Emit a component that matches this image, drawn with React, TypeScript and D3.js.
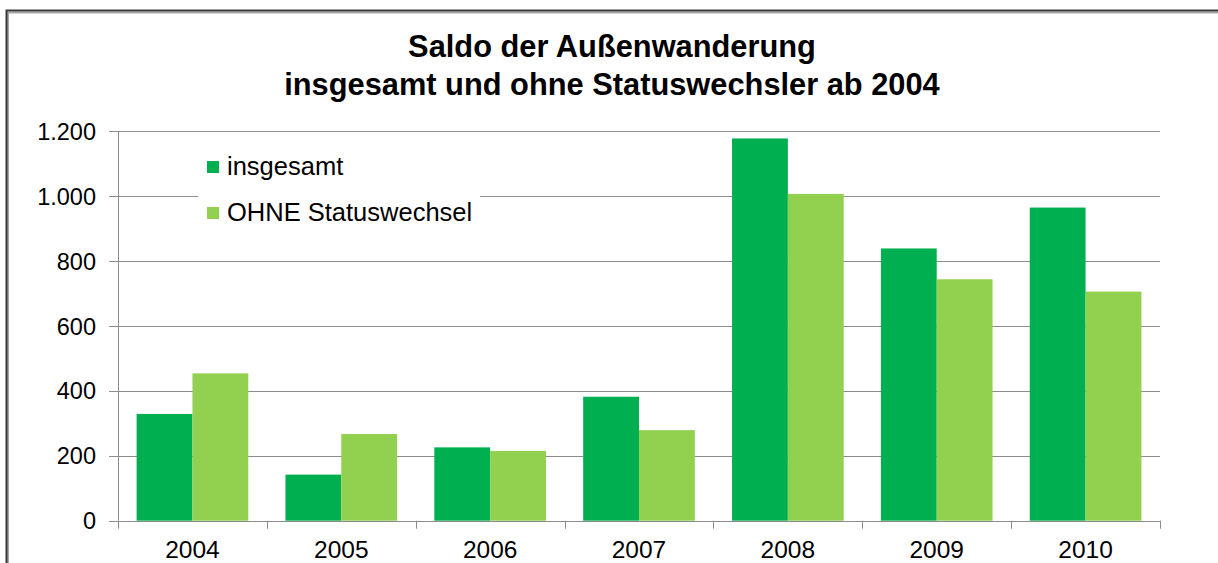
import React from 'react';
import * as d3 from 'd3';

const years = ['2004', '2005', '2006', '2007', '2008', '2009', '2010'];
const insgesamt = [329, 142, 226, 382, 1178, 839, 965];
const ohneStatus = [454, 267, 215, 279, 1007, 744, 706];
const seriesNames = ['insgesamt', 'OHNE Statuswechsel'];
const seriesColors = ['#00b050', '#92d050'];
const titleLines = ['Saldo der Außenwanderung', 'insgesamt und ohne Statuswechsler ab 2004'];

const W = 1218;
const H = 563;
const plot = { left: 118, right: 1160, top: 131.3, bottom: 520.7 };
const font = 'Arial, "Liberation Sans", sans-serif';

const de = d3.formatLocale({ decimal: ',', thousands: '.', grouping: [3], currency: ['', ' €'] });
const fmt = de.format(',d');

export default function App() {
  const series = [insgesamt, ohneStatus];

  const x0 = d3.scaleBand<string>().domain(years).range([plot.left, plot.right])
    .paddingInner(0.25).paddingOuter(0.125);
  const x1 = d3.scaleBand<number>().domain([0, 1]).range([0, x0.bandwidth()]);
  const y = d3.scaleLinear().domain([0, 1200]).range([plot.bottom, plot.top]);
  const yTicks = y.ticks(6);
  const step = x0.step();
  // category boundaries for the x ticks
  const bounds = d3.range(years.length + 1).map(i => plot.left + i * step);

  return (
    <svg width={W} height={H} style={{ position: 'absolute', left: 0, top: 0 }} fontFamily={font}>
      <rect x={0} y={0} width={W} height={H} fill="#fff" />
      {/* chart frame, cut off at right and bottom */}
      <path d={`M8,${H}V12.5H${W}`} fill="none" stroke="#a6a6a6" strokeWidth={2} />
      <path d={`M6.5,${H}V10.5H${W}`} fill="none" stroke="#3a3a3a" strokeWidth={2} />

      {titleLines.map((t, i) => (
        <text key={t} x={612} y={57 + i * 38} textAnchor="middle" fontSize={30.8} fontWeight="bold" fill="#000">{t}</text>
      ))}

      {/* grid + y axis */}
      {yTicks.map(t => (
        <g key={t}>
          <line x1={plot.left - 9} x2={plot.right} y1={Math.round(y(t)) + 0.5} y2={Math.round(y(t)) + 0.5} stroke="#8c8c8c" strokeWidth={1} />
          <text x={96} y={y(t) + 8.5} textAnchor="end" fontSize={23.5} fill="#000">{fmt(t)}</text>
        </g>
      ))}
      <line x1={plot.left + 0.5} x2={plot.left + 0.5} y1={plot.top} y2={plot.bottom} stroke="#8c8c8c" />

      {/* bars */}
      {years.map((yr, i) => (
        <g key={yr} transform={`translate(${x0(yr)},0)`}>
          {series.map((s, j) => (
            <rect key={j} x={x1(j)} y={y(s[i])} width={x1.bandwidth()} height={y(0) - y(s[i])} fill={seriesColors[j]} />
          ))}
        </g>
      ))}

      {/* x axis */}
      <line x1={plot.left} x2={plot.right} y1={Math.round(y(0)) + 0.5} y2={Math.round(y(0)) + 0.5} stroke="#8c8c8c" />
      {bounds.map((b, i) => (
        <line key={i} x1={Math.round(b) + 0.5} x2={Math.round(b) + 0.5} y1={y(0)} y2={y(0) + 8} stroke="#8c8c8c" />
      ))}
      {years.map(yr => (
        <text key={yr} x={(x0(yr) as number) + x0.bandwidth() / 2} y={558} textAnchor="middle" fontSize={24.5} fill="#000">{yr}</text>
      ))}

      {/* legend */}
      <rect x={198} y={148} width={282} height={88} fill="#fff" />
      {seriesNames.map((n, j) => (
        <g key={n} transform={`translate(207,${161 + j * 46})`}>
          <rect x={0} y={0} width={12} height={12} fill={seriesColors[j]} />
          <text x={20} y={14} fontSize={25.5} fill="#000">{n}</text>
        </g>
      ))}
    </svg>
  );
}
